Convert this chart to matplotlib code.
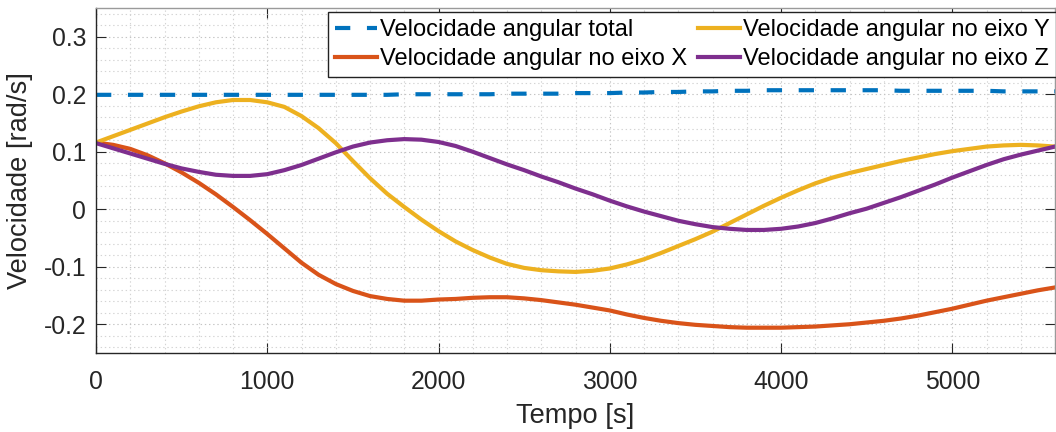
import matplotlib
matplotlib.use("Agg")
import matplotlib.pyplot as plt
from matplotlib.ticker import MultipleLocator

# Time axis [s], sampled every 100 s
tempo = [0, 100, 200, 300, 400, 500, 600, 700, 800, 900,
         1000, 1100, 1200, 1300, 1400, 1500, 1600, 1700, 1800, 1900,
         2000, 2100, 2200, 2300, 2400, 2500, 2600, 2700, 2800, 2900,
         3000, 3100, 3200, 3300, 3400, 3500, 3600, 3700, 3800, 3900,
         4000, 4100, 4200, 4300, 4400, 4500, 4600, 4700, 4800, 4900,
         5000, 5100, 5200, 5300, 5400, 5500, 5600]

# Angular velocity [rad/s]
w_total = [0.199, 0.199, 0.199, 0.199, 0.199, 0.199, 0.199, 0.199, 0.199, 0.199,
           0.199, 0.199, 0.199, 0.199, 0.199, 0.199, 0.199, 0.199, 0.200, 0.200,
           0.200, 0.200, 0.200, 0.200, 0.201, 0.201, 0.201, 0.201, 0.202, 0.202,
           0.202, 0.203, 0.203, 0.204, 0.204, 0.205, 0.205, 0.206, 0.206, 0.207,
           0.207, 0.207, 0.207, 0.207, 0.207, 0.207, 0.207, 0.206, 0.206, 0.206,
           0.206, 0.206, 0.206, 0.205, 0.205, 0.205, 0.205]
w_x = [0.116, 0.112, 0.105, 0.094, 0.080, 0.064, 0.046, 0.026, 0.004, -0.019,
       -0.043, -0.068, -0.093, -0.114, -0.130, -0.142, -0.151, -0.156, -0.159, -0.159,
       -0.157, -0.156, -0.154, -0.153, -0.153, -0.155, -0.158, -0.162, -0.166, -0.171,
       -0.176, -0.183, -0.189, -0.194, -0.198, -0.201, -0.203, -0.205, -0.206, -0.206,
       -0.206, -0.205, -0.204, -0.202, -0.200, -0.197, -0.194, -0.190, -0.185, -0.179,
       -0.173, -0.166, -0.159, -0.153, -0.147, -0.141, -0.136]
w_y = [0.116, 0.127, 0.138, 0.149, 0.160, 0.170, 0.179, 0.186, 0.190, 0.190,
       0.186, 0.178, 0.162, 0.141, 0.115, 0.084, 0.054, 0.027, 0.004, -0.018,
       -0.038, -0.056, -0.071, -0.084, -0.095, -0.102, -0.106, -0.108, -0.109, -0.107,
       -0.103, -0.096, -0.087, -0.076, -0.064, -0.052, -0.039, -0.024, -0.009, 0.006,
       0.020, 0.033, 0.045, 0.055, 0.063, 0.070, 0.077, 0.084, 0.090, 0.096,
       0.101, 0.105, 0.109, 0.111, 0.112, 0.111, 0.109]
w_z = [0.115, 0.106, 0.097, 0.088, 0.079, 0.071, 0.065, 0.060, 0.058, 0.058,
       0.061, 0.068, 0.077, 0.088, 0.099, 0.109, 0.116, 0.120, 0.122, 0.121,
       0.117, 0.110, 0.100, 0.089, 0.078, 0.068, 0.057, 0.047, 0.036, 0.026,
       0.015, 0.005, -0.004, -0.012, -0.020, -0.026, -0.031, -0.034, -0.036, -0.036,
       -0.034, -0.030, -0.024, -0.016, -0.007, 0.001, 0.011, 0.021, 0.032, 0.043,
       0.055, 0.066, 0.077, 0.087, 0.095, 0.102, 0.109]

labels = ["Velocidade angular total", "Velocidade angular no eixo X",
          "Velocidade angular no eixo Y", "Velocidade angular no eixo Z"]
colors = ["#0072BD", "#D95319", "#EDB120", "#7E2F8E"]

x_ticks = [0, 1000, 2000, 3000, 4000, 5000]
y_ticks = [-0.2, -0.1, 0, 0.1, 0.2, 0.3]
y_tick_labels = ["-0.2", "-0.1", "0", "0.1", "0.2", "0.3"]

plt.rcParams["font.family"] = ["Liberation Sans", "DejaVu Sans"]
plt.rcParams["axes.unicode_minus"] = False
plt.rcParams["lines.scale_dashes"] = False

text_gray = "#262626"

fig = plt.figure(figsize=(10.56, 4.32), dpi=100)
ax = fig.add_axes([96 / 1056, 1 - 353 / 432, 959 / 1056, 345 / 432])

lw = 3.0
ax.plot(tempo, w_total, color=colors[0], lw=lw, dashes=(11, 12), label=labels[0])
ax.plot(tempo, w_x, color=colors[1], lw=lw, label=labels[1])
ax.plot(tempo, w_y, color=colors[2], lw=lw, label=labels[2])
ax.plot(tempo, w_z, color=colors[3], lw=lw, label=labels[3])

ax.set_xlim(0, 5600)
ax.set_ylim(-0.25, 0.35)
ax.set_xticks(x_ticks)
ax.set_xticklabels([str(v) for v in x_ticks])
ax.set_yticks(y_ticks)
ax.set_yticklabels(y_tick_labels)
ax.xaxis.set_minor_locator(MultipleLocator(200))
ax.yaxis.set_minor_locator(MultipleLocator(0.02))

ax.grid(which="major", color="#c4c4c4", linestyle=(0, (1, 2)), linewidth=0.8)
ax.grid(which="minor", color="#d4d4d4", linestyle=(0, (1, 2)), linewidth=0.8)
ax.set_axisbelow(True)

ax.tick_params(which="major", direction="in", length=7, width=0.8, top=True, right=True,
               labelsize=17.8, colors=text_gray, pad=7)
ax.tick_params(axis="x", which="major", pad=12)
ax.tick_params(which="minor", length=0)
for side in ("left", "bottom"):
    ax.spines[side].set_color(text_gray)
    ax.spines[side].set_linewidth(1.0)
for side in ("top", "right"):
    ax.spines[side].set_color("#9a9a9a")
    ax.spines[side].set_linewidth(1.0)

ax.set_xlabel("Tempo [s]", fontsize=19.6, color=text_gray, labelpad=7)
ax.set_ylabel("Velocidade [rad/s]", fontsize=19.6, color=text_gray, labelpad=8)

leg = ax.legend(ncol=2, loc="upper right", bbox_to_anchor=(1.0015, 0.9884),
                borderaxespad=0, fancybox=False, framealpha=1, edgecolor="#222222",
                prop={"family": ["Liberation Sans", "DejaVu Sans"], "size": 17},
                handlelength=1.78, handletextpad=0.13, columnspacing=0.42,
                labelspacing=0.29, borderpad=0.3)
leg.get_frame().set_linewidth(1.0)

fig.savefig("out.png", dpi=100)
